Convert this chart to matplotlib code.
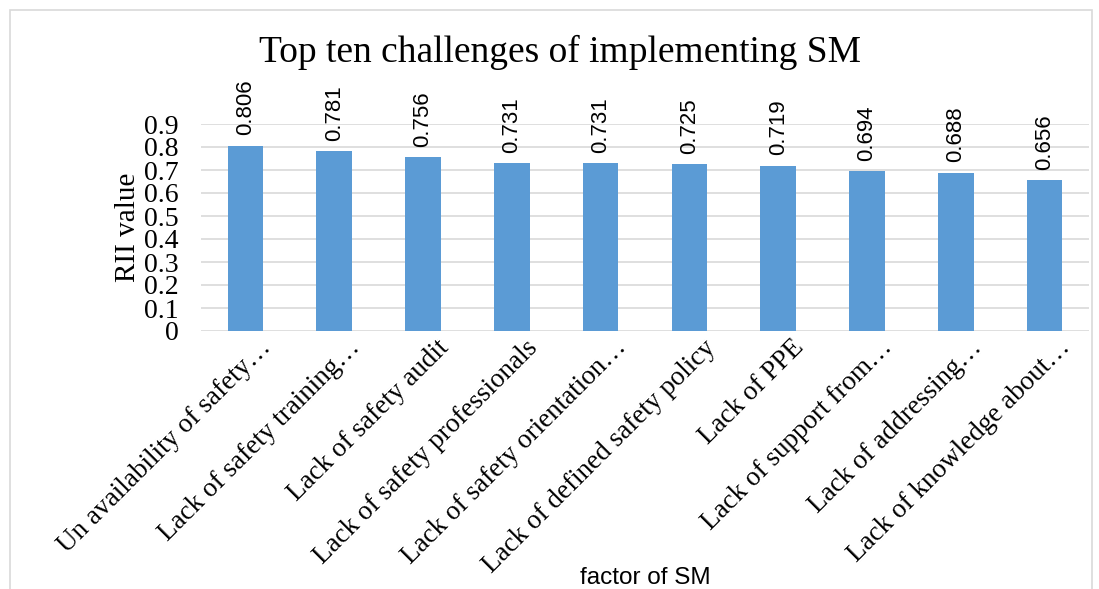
import matplotlib.pyplot as plt
from matplotlib.patches import Rectangle

categories = [
    "Un availability of safety\u2026",
    "Lack of safety training\u2026",
    "Lack of safety audit",
    "Lack of safety professionals",
    "Lack of safety orientation\u2026",
    "Lack of defined safety policy",
    "Lack of PPE",
    "Lack of support from\u2026",
    "Lack of addressing\u2026",
    "Lack of knowledge about\u2026",
]
rii = [0.806, 0.781, 0.756, 0.731, 0.731, 0.725, 0.719, 0.694, 0.688, 0.656]
yticks = [0, 0.1, 0.2, 0.3, 0.4, 0.5, 0.6, 0.7, 0.8, 0.9]

SERIF = "Liberation Serif"
SANS = "Liberation Sans"
BAR_COLOR = "#5B9BD5"

fig = plt.figure(figsize=(10.99, 5.89), dpi=100)
ax = fig.add_axes([201 / 1099, 1 - 331 / 589, 888 / 1099, 207 / 589])

x = list(range(len(categories)))
ax.bar(x, rii, width=0.4, color=BAR_COLOR, zorder=3)

for xi, v in zip(x, rii):
    ax.text(xi, v + 0.045, f"{v:.3f}", rotation=90, ha="center", va="bottom",
            fontsize=16, family=SANS, color="#000000")

ax.set_xlim(-0.5, len(categories) - 0.5)
ax.set_ylim(0, 0.9)
ax.set_yticks(yticks)
ax.set_yticklabels([f"{t:g}" for t in yticks], family=SERIF, fontsize=20)

# category labels: rotated 45deg, drawn per tick so they can be nudged like Excel
ax.set_xticks(x)
ax.set_xticklabels([])
for xi, name in zip(x, categories):
    ax.annotate(name, xy=(xi, 0), xycoords=("data", "axes fraction"),
                xytext=(9.5, -3), textcoords="offset points",
                rotation=45, rotation_mode="anchor", ha="right", va="top",
                family=SERIF, fontsize=19.5, annotation_clip=False)

ax.tick_params(axis="both", length=0)
ax.tick_params(axis="y", pad=16)
ax.grid(axis="y", color="#d9d9d9", linewidth=1.2, zorder=0)
for s in ax.spines.values():
    s.set_visible(False)
ax.set_axisbelow(True)

ax.set_ylabel("RII value", family=SERIF, fontsize=21, labelpad=2)
fig.text(645 / 1099, 1 - 578 / 589, "factor of SM", family=SANS, fontsize=17.5,
         ha="center", va="center")
fig.text(560 / 1099, 1 - 52 / 589, "Top ten challenges of implementing SM",
         family=SERIF, fontsize=27, ha="center", va="center")

fig.patches.append(Rectangle((10 / 1099, -0.01), 1082 / 1099, 1 - 10 / 589 + 0.01,
                             transform=fig.transFigure, fill=False,
                             edgecolor="#d9d9d9", linewidth=1.2))

fig.savefig("out.png", dpi=100)
